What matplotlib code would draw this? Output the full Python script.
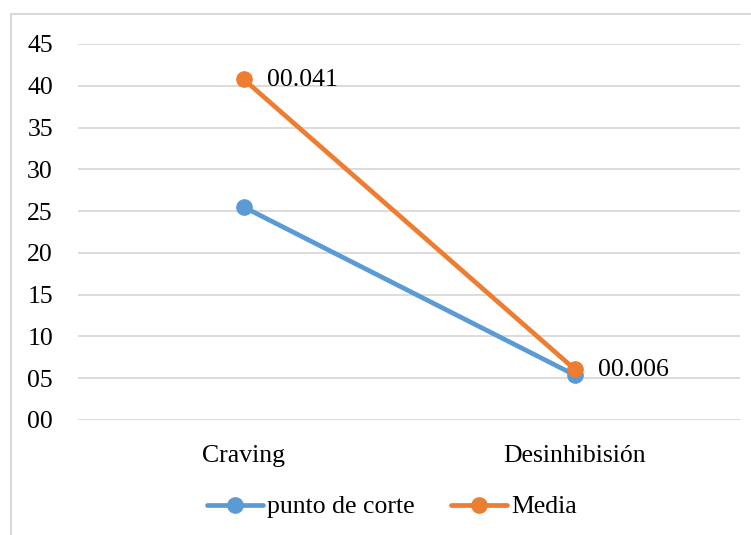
import matplotlib
matplotlib.use("Agg")
import matplotlib.pyplot as plt
from matplotlib.patches import Rectangle

categories = ["Craving", "Desinhibisión"]
punto_de_corte = [25.5, 5.4]
media = [40.8, 6.1]
media_labels = ["00.041", "00.006"]
yticks = [0, 5, 10, 15, 20, 25, 30, 35, 40, 45]
ytick_labels = ["00", "05", "10", "15", "20", "25", "30", "35", "40", "45"]

plt.rcParams['font.family'] = ['Liberation Serif', 'DejaVu Serif']
FS = 18.5

fig = plt.figure(figsize=(7.51, 5.35), dpi=100)
# outer chart frame (cut at right and bottom)
fig.patches.append(Rectangle((11/751, -0.05), 1.2, (535-14)/535 + 0.05,
                             transform=fig.transFigure, fill=False,
                             edgecolor='#D9D9D9', linewidth=1.5))

ax = fig.add_axes([78/751, 1-420/535, (740-78)/751, (420-44)/535])
x = [0, 1]
ax.plot(x, punto_de_corte, color='#5B9BD5', lw=3.4, marker='o', ms=11,
        label='punto de corte', solid_capstyle='round', zorder=3)
ax.plot(x, media, color='#ED7D31', lw=3.4, marker='o', ms=11,
        label='Media', solid_capstyle='round', zorder=4)

for xi, yi, lab in zip(x, media, media_labels):
    ax.annotate(lab, (xi, yi), xytext=(17, -1), textcoords='offset points',
                va='center', ha='left', fontsize=FS)

ax.set_xlim(-0.5, 1.5)
ax.set_ylim(0, 45)
ax.set_yticks(yticks)
ax.set_yticklabels(ytick_labels, fontsize=FS)
ax.set_xticks(x)
ax.set_xticklabels(categories, fontsize=FS)
ax.tick_params(axis='both', length=0)
ax.tick_params(axis='x', pad=18)
ax.tick_params(axis='y', pad=18)
ax.grid(axis='y', color='#D9D9D9', lw=1.3)
ax.set_axisbelow(True)
for s in ax.spines.values():
    s.set_visible(False)

leg = fig.legend(loc='center', bbox_to_anchor=(392/751, 1-507/535), ncol=2,
                 frameon=False, fontsize=FS, handlelength=2.2,
                 handletextpad=0.15, columnspacing=1.4)

fig.savefig("out.png", dpi=100)
